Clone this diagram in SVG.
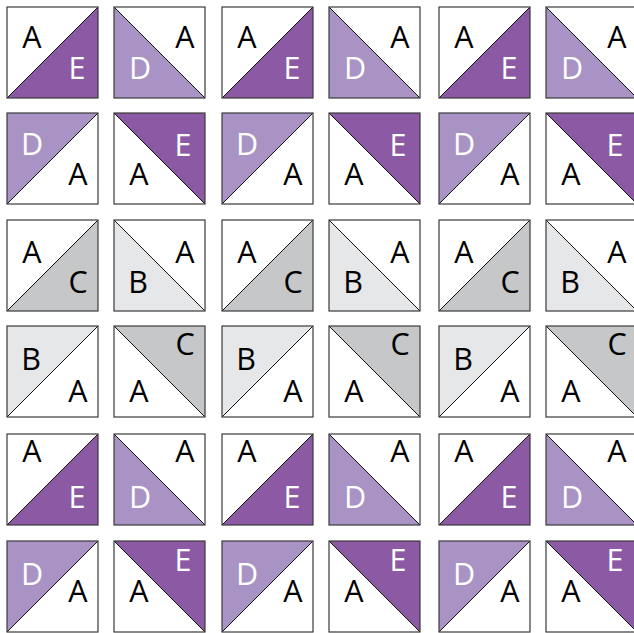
<svg xmlns="http://www.w3.org/2000/svg" xmlns:xlink="http://www.w3.org/1999/xlink" width="634" height="633" viewBox="0 0 634 633">
<style>
.diag{stroke:#111;stroke-width:1}
.E{fill:#8c5aa4}
.D{fill:#a993c5}
.C{fill:#c6c7c9}
.B{fill:#e6e7e8}
.edge{fill:none;stroke:#3a3a3a;stroke-width:1.2}
text{font-family:"Open Sans","Liberation Sans",sans-serif;font-size:30.5px;text-anchor:middle}
.k{fill:#000}
.w{fill:#fff}
</style>
<defs>
<rect id="bg" x="0" y="0" width="91" height="91" fill="#fff"/>
<rect id="fr" x="0" y="0" width="91" height="91"/>
<polygon id="br" points="0,91 91,0 91,91"/>
<polygon id="tl" points="0,0 91,0 0,91"/>
<polygon id="bl" points="0,0 0,91 91,91"/>
<polygon id="tr" points="0,0 91,0 91,91"/>
<line id="dU" x1="0" y1="91" x2="91" y2="0"/>
<line id="dD" x1="0" y1="0" x2="91" y2="91"/>
</defs>
<g id="tiles">
<!-- Row 1 -->
<g id="r1c1" transform="translate(7,7)"><use xlink:href="#bg"/><use xlink:href="#br" class="E"/><use xlink:href="#dU" class="diag"/><use xlink:href="#fr" class="edge"/><text x="25" y="41" class="k">A</text><text x="70" y="72" class="w">E</text></g>
<g id="r1c2" transform="translate(114,7)"><use xlink:href="#bg"/><use xlink:href="#bl" class="D"/><use xlink:href="#dD" class="diag"/><use xlink:href="#fr" class="edge"/><text x="71" y="41" class="k">A</text><text x="26" y="72" class="w">D</text></g>
<g id="r1c3" transform="translate(222,7)"><use xlink:href="#bg"/><use xlink:href="#br" class="E"/><use xlink:href="#dU" class="diag"/><use xlink:href="#fr" class="edge"/><text x="25" y="41" class="k">A</text><text x="70" y="72" class="w">E</text></g>
<g id="r1c4" transform="translate(329,7)"><use xlink:href="#bg"/><use xlink:href="#bl" class="D"/><use xlink:href="#dD" class="diag"/><use xlink:href="#fr" class="edge"/><text x="71" y="41" class="k">A</text><text x="26" y="72" class="w">D</text></g>
<g id="r1c5" transform="translate(439,7)"><use xlink:href="#bg"/><use xlink:href="#br" class="E"/><use xlink:href="#dU" class="diag"/><use xlink:href="#fr" class="edge"/><text x="25" y="41" class="k">A</text><text x="70" y="72" class="w">E</text></g>
<g id="r1c6" transform="translate(546,7)"><use xlink:href="#bg"/><use xlink:href="#bl" class="D"/><use xlink:href="#dD" class="diag"/><use xlink:href="#fr" class="edge"/><text x="71" y="41" class="k">A</text><text x="26" y="72" class="w">D</text></g>
<!-- Row 2 -->
<g id="r2c1" transform="translate(7,113)"><use xlink:href="#bg"/><use xlink:href="#tl" class="D"/><use xlink:href="#dU" class="diag"/><use xlink:href="#fr" class="edge"/><text x="25" y="42" class="w">D</text><text x="71" y="72" class="k">A</text></g>
<g id="r2c2" transform="translate(114,113)"><use xlink:href="#bg"/><use xlink:href="#tr" class="E"/><use xlink:href="#dD" class="diag"/><use xlink:href="#fr" class="edge"/><text x="69" y="43" class="w">E</text><text x="25" y="72" class="k">A</text></g>
<g id="r2c3" transform="translate(222,113)"><use xlink:href="#bg"/><use xlink:href="#tl" class="D"/><use xlink:href="#dU" class="diag"/><use xlink:href="#fr" class="edge"/><text x="25" y="42" class="w">D</text><text x="71" y="72" class="k">A</text></g>
<g id="r2c4" transform="translate(329,113)"><use xlink:href="#bg"/><use xlink:href="#tr" class="E"/><use xlink:href="#dD" class="diag"/><use xlink:href="#fr" class="edge"/><text x="69" y="43" class="w">E</text><text x="25" y="72" class="k">A</text></g>
<g id="r2c5" transform="translate(439,113)"><use xlink:href="#bg"/><use xlink:href="#tl" class="D"/><use xlink:href="#dU" class="diag"/><use xlink:href="#fr" class="edge"/><text x="25" y="42" class="w">D</text><text x="71" y="72" class="k">A</text></g>
<g id="r2c6" transform="translate(546,113)"><use xlink:href="#bg"/><use xlink:href="#tr" class="E"/><use xlink:href="#dD" class="diag"/><use xlink:href="#fr" class="edge"/><text x="69" y="43" class="w">E</text><text x="25" y="72" class="k">A</text></g>
<!-- Row 3 -->
<g id="r3c1" transform="translate(7,220)"><use xlink:href="#bg"/><use xlink:href="#br" class="C"/><use xlink:href="#dU" class="diag"/><use xlink:href="#fr" class="edge"/><text x="25" y="43" class="k">A</text><text x="71" y="73" class="k">C</text></g>
<g id="r3c2" transform="translate(114,220)"><use xlink:href="#bg"/><use xlink:href="#bl" class="B"/><use xlink:href="#dD" class="diag"/><use xlink:href="#fr" class="edge"/><text x="71" y="43" class="k">A</text><text x="24" y="73" class="k">B</text></g>
<g id="r3c3" transform="translate(222,220)"><use xlink:href="#bg"/><use xlink:href="#br" class="C"/><use xlink:href="#dU" class="diag"/><use xlink:href="#fr" class="edge"/><text x="25" y="43" class="k">A</text><text x="71" y="73" class="k">C</text></g>
<g id="r3c4" transform="translate(329,220)"><use xlink:href="#bg"/><use xlink:href="#bl" class="B"/><use xlink:href="#dD" class="diag"/><use xlink:href="#fr" class="edge"/><text x="71" y="43" class="k">A</text><text x="24" y="73" class="k">B</text></g>
<g id="r3c5" transform="translate(439,220)"><use xlink:href="#bg"/><use xlink:href="#br" class="C"/><use xlink:href="#dU" class="diag"/><use xlink:href="#fr" class="edge"/><text x="25" y="43" class="k">A</text><text x="71" y="73" class="k">C</text></g>
<g id="r3c6" transform="translate(546,220)"><use xlink:href="#bg"/><use xlink:href="#bl" class="B"/><use xlink:href="#dD" class="diag"/><use xlink:href="#fr" class="edge"/><text x="71" y="43" class="k">A</text><text x="24" y="73" class="k">B</text></g>
<!-- Row 4 -->
<g id="r4c1" transform="translate(7,326)"><use xlink:href="#bg"/><use xlink:href="#tl" class="B"/><use xlink:href="#dU" class="diag"/><use xlink:href="#fr" class="edge"/><text x="24" y="44" class="k">B</text><text x="71" y="76" class="k">A</text></g>
<g id="r4c2" transform="translate(114,326)"><use xlink:href="#bg"/><use xlink:href="#tr" class="C"/><use xlink:href="#dD" class="diag"/><use xlink:href="#fr" class="edge"/><text x="71" y="29" class="k">C</text><text x="25" y="76" class="k">A</text></g>
<g id="r4c3" transform="translate(222,326)"><use xlink:href="#bg"/><use xlink:href="#tl" class="B"/><use xlink:href="#dU" class="diag"/><use xlink:href="#fr" class="edge"/><text x="24" y="44" class="k">B</text><text x="71" y="76" class="k">A</text></g>
<g id="r4c4" transform="translate(329,326)"><use xlink:href="#bg"/><use xlink:href="#tr" class="C"/><use xlink:href="#dD" class="diag"/><use xlink:href="#fr" class="edge"/><text x="71" y="29" class="k">C</text><text x="25" y="76" class="k">A</text></g>
<g id="r4c5" transform="translate(439,326)"><use xlink:href="#bg"/><use xlink:href="#tl" class="B"/><use xlink:href="#dU" class="diag"/><use xlink:href="#fr" class="edge"/><text x="24" y="44" class="k">B</text><text x="71" y="76" class="k">A</text></g>
<g id="r4c6" transform="translate(546,326)"><use xlink:href="#bg"/><use xlink:href="#tr" class="C"/><use xlink:href="#dD" class="diag"/><use xlink:href="#fr" class="edge"/><text x="71" y="29" class="k">C</text><text x="25" y="76" class="k">A</text></g>
<!-- Row 5 -->
<g id="r5c1" transform="translate(7,434)"><use xlink:href="#bg"/><use xlink:href="#br" class="E"/><use xlink:href="#dU" class="diag"/><use xlink:href="#fr" class="edge"/><text x="25" y="28" class="k">A</text><text x="70" y="74" class="w">E</text></g>
<g id="r5c2" transform="translate(114,434)"><use xlink:href="#bg"/><use xlink:href="#bl" class="D"/><use xlink:href="#dD" class="diag"/><use xlink:href="#fr" class="edge"/><text x="71" y="28" class="k">A</text><text x="26" y="74" class="w">D</text></g>
<g id="r5c3" transform="translate(222,434)"><use xlink:href="#bg"/><use xlink:href="#br" class="E"/><use xlink:href="#dU" class="diag"/><use xlink:href="#fr" class="edge"/><text x="25" y="28" class="k">A</text><text x="70" y="74" class="w">E</text></g>
<g id="r5c4" transform="translate(329,434)"><use xlink:href="#bg"/><use xlink:href="#bl" class="D"/><use xlink:href="#dD" class="diag"/><use xlink:href="#fr" class="edge"/><text x="71" y="28" class="k">A</text><text x="26" y="74" class="w">D</text></g>
<g id="r5c5" transform="translate(439,434)"><use xlink:href="#bg"/><use xlink:href="#br" class="E"/><use xlink:href="#dU" class="diag"/><use xlink:href="#fr" class="edge"/><text x="25" y="28" class="k">A</text><text x="70" y="74" class="w">E</text></g>
<g id="r5c6" transform="translate(546,434)"><use xlink:href="#bg"/><use xlink:href="#bl" class="D"/><use xlink:href="#dD" class="diag"/><use xlink:href="#fr" class="edge"/><text x="71" y="28" class="k">A</text><text x="26" y="74" class="w">D</text></g>
<!-- Row 6 -->
<g id="r6c1" transform="translate(7,541)"><use xlink:href="#bg"/><use xlink:href="#tl" class="D"/><use xlink:href="#dU" class="diag"/><use xlink:href="#fr" class="edge"/><text x="25" y="44" class="w">D</text><text x="71" y="61" class="k">A</text></g>
<g id="r6c2" transform="translate(114,541)"><use xlink:href="#bg"/><use xlink:href="#tr" class="E"/><use xlink:href="#dD" class="diag"/><use xlink:href="#fr" class="edge"/><text x="69" y="30" class="w">E</text><text x="25" y="61" class="k">A</text></g>
<g id="r6c3" transform="translate(222,541)"><use xlink:href="#bg"/><use xlink:href="#tl" class="D"/><use xlink:href="#dU" class="diag"/><use xlink:href="#fr" class="edge"/><text x="25" y="44" class="w">D</text><text x="71" y="61" class="k">A</text></g>
<g id="r6c4" transform="translate(329,541)"><use xlink:href="#bg"/><use xlink:href="#tr" class="E"/><use xlink:href="#dD" class="diag"/><use xlink:href="#fr" class="edge"/><text x="69" y="30" class="w">E</text><text x="25" y="61" class="k">A</text></g>
<g id="r6c5" transform="translate(439,541)"><use xlink:href="#bg"/><use xlink:href="#tl" class="D"/><use xlink:href="#dU" class="diag"/><use xlink:href="#fr" class="edge"/><text x="25" y="44" class="w">D</text><text x="71" y="61" class="k">A</text></g>
<g id="r6c6" transform="translate(546,541)"><use xlink:href="#bg"/><use xlink:href="#tr" class="E"/><use xlink:href="#dD" class="diag"/><use xlink:href="#fr" class="edge"/><text x="69" y="30" class="w">E</text><text x="25" y="61" class="k">A</text></g>
</g>
<g id="connectors"></g>
</svg>
